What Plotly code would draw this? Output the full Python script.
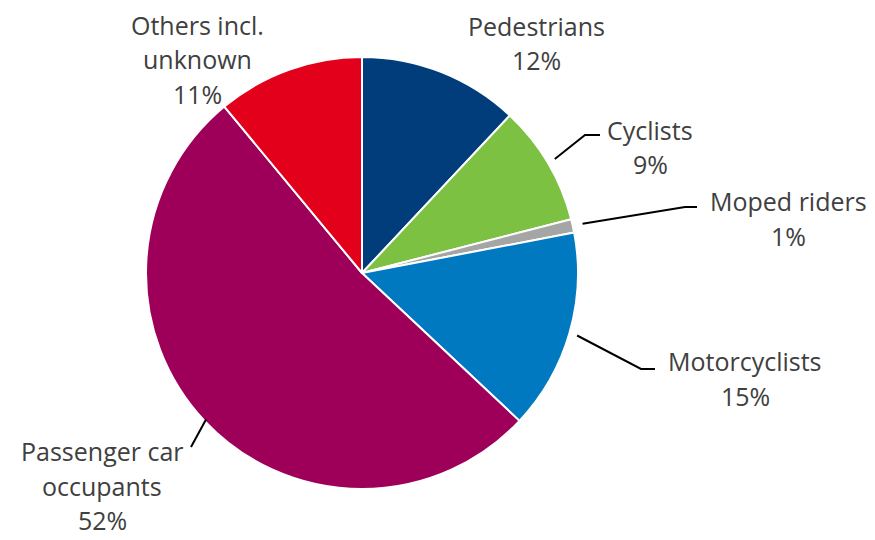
import math
import plotly.graph_objects as go

categories = ["Pedestrians", "Cyclists", "Moped riders", "Motorcyclists",
              "Passenger car occupants", "Others incl. unknown"]
values = [12, 9, 1, 15, 52, 11]
label_lines = [["Pedestrians"], ["Cyclists"], ["Moped riders"], ["Motorcyclists"],
               ["Passenger car", "occupants"], ["Others incl.", "unknown"]]
colors = ["#003D7A", "#7DC142", "#A5A5A5", "#0079C1", "#9E0059", "#E2001A"]

W, H = 875, 540
OFF = 8          # page body margin in the browser
CX, CY, R = 362, 273, 216   # page pixels
LINE_H = 34.5


def px(x):
    return (x - OFF) / W


def py(y):
    return 1 - (y - OFF) / H


fig = go.Figure(go.Pie(
    labels=categories, values=values, sort=False, direction="clockwise",
    rotation=0, textinfo="none", hoverinfo="label+percent",
    marker=dict(colors=colors, line=dict(color="white", width=2)),
    domain=dict(x=[px(CX - R), px(CX + R)], y=[py(CY + R), py(CY - R)]),
    showlegend=False,
))

# label anchor: (centre x, centre y of first line), page pixels
label_pos = {
    "Pedestrians": (536, 26),
    "Cyclists": (650, 130),
    "Moped riders": (788, 201),
    "Motorcyclists": (745, 361),
    "Passenger car occupants": (102, 451),
    "Others incl. unknown": (197, 25),
}
leaders = {
    "Cyclists": [(585, 135), (600, 135)],
    "Moped riders": [(685, 207), (697, 207)],
    "Motorcyclists": [(641, 369), (655, 369)],
    "Passenger car occupants": [(191, 447)],
}
leader_r = {"Cyclists": 224, "Moped riders": 226, "Motorcyclists": 224,
            "Passenger car occupants": 214}

total = sum(values)
cum = 0
for cat, val, lines in zip(categories, values, label_lines):
    mid = (cum + val / 2) / total * 2 * math.pi
    cum += val
    lx, ly = label_pos[cat]
    for i, t in enumerate(lines + [f"{round(val / total * 100)}%"]):
        fig.add_annotation(x=px(lx), y=py(ly + i * LINE_H), xref="paper", yref="paper",
                           text=t, showarrow=False,
                           font=dict(family="Open Sans", size=25, color="#404040"),
                           xanchor="center", yanchor="middle")
    if cat in leaders:
        rr = leader_r[cat]
        sx = CX + rr * math.sin(mid)
        sy = CY - rr * math.cos(mid)
        pts = [(sx, sy)] + leaders[cat]
        path = "M " + " L ".join(f"{px(a)},{py(b)}" for a, b in pts)
        fig.add_shape(type="path", path=path, xref="paper", yref="paper",
                      line=dict(color="black", width=2))

fig.update_layout(width=W, height=H, margin=dict(l=0, r=0, t=0, b=0),
                  paper_bgcolor="white", plot_bgcolor="white")
fig.write_html("out.html")
